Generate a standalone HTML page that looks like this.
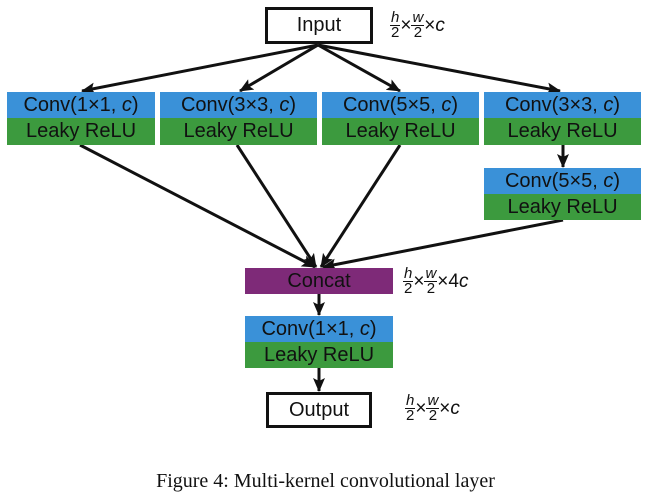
<!DOCTYPE html>
<html><head><style>
body{margin:0;width:651px;height:501px;background:#fff;position:relative;overflow:hidden;font-family:"Liberation Sans",sans-serif}
.b{position:absolute;background:#3a91d8;color:#111;font-size:20px;text-align:center;line-height:26px;height:26px}
.g{position:absolute;background:#3c9a3e;color:#111;font-size:20px;text-align:center;line-height:27px;height:27px}
.box{position:absolute;border:3px solid #111;box-sizing:border-box;text-align:center;font-size:20px;color:#111}
.f{position:absolute;font-size:19px;color:#111;display:flex;align-items:center}
.fr{display:inline-flex;flex-direction:column;align-items:center;font-size:15px;line-height:14px}
.fr i{border-bottom:1px solid #111;padding:0 1px}
</style></head><body>
<svg width="651" height="501" style="position:absolute;left:0;top:0">
<defs><marker id="a" markerWidth="14" markerHeight="12" refX="13" refY="6" orient="auto" markerUnits="userSpaceOnUse"><path d="M0,0 L14,6 L0,12 L3,6z" fill="#111"/></marker></defs>
<g stroke="#111" stroke-width="3" fill="none">
<line x1="318" y1="45" x2="82" y2="91" marker-end="url(#a)"/>
<line x1="318" y1="45" x2="240" y2="91" marker-end="url(#a)"/>
<line x1="318" y1="45" x2="400" y2="91" marker-end="url(#a)"/>
<line x1="318" y1="45" x2="560" y2="91" marker-end="url(#a)"/>
<line x1="563" y1="145" x2="563" y2="167" marker-end="url(#a)"/>
<line x1="80" y1="145" x2="315" y2="267" marker-end="url(#a)"/>
<line x1="237" y1="145" x2="316" y2="267" marker-end="url(#a)"/>
<line x1="400" y1="145" x2="321" y2="267" marker-end="url(#a)"/>
<line x1="563" y1="220" x2="323" y2="267" marker-end="url(#a)"/>
<line x1="319" y1="294" x2="319" y2="315" marker-end="url(#a)"/>
<line x1="319" y1="368" x2="319" y2="391" marker-end="url(#a)"/>
</g></svg>
<div class="box" style="left:265px;top:7px;width:108px;height:37px;line-height:31px">Input</div>
<div class="b" style="left:7px;top:92px;width:148px">Conv(1×1, <i>c</i>)</div><div class="g" style="left:7px;top:118px;width:148px">Leaky ReLU</div>
<div class="b" style="left:160px;top:92px;width:157px">Conv(3×3, <i>c</i>)</div><div class="g" style="left:160px;top:118px;width:157px">Leaky ReLU</div>
<div class="b" style="left:322px;top:92px;width:157px">Conv(5×5, <i>c</i>)</div><div class="g" style="left:322px;top:118px;width:157px">Leaky ReLU</div>
<div class="b" style="left:484px;top:92px;width:157px">Conv(3×3, <i>c</i>)</div><div class="g" style="left:484px;top:118px;width:157px">Leaky ReLU</div>
<div class="b" style="left:484px;top:168px;width:157px">Conv(5×5, <i>c</i>)</div><div class="g" style="left:484px;top:194px;width:157px;height:26px">Leaky ReLU</div>
<div style="position:absolute;left:245px;top:268px;width:148px;height:26px;background:#7e2a78;color:#111;font-size:20px;text-align:center;line-height:26px">Concat</div>
<div class="b" style="left:245px;top:316px;width:148px">Conv(1×1, <i>c</i>)</div><div class="g" style="left:245px;top:342px;width:148px;height:26px">Leaky ReLU</div>
<div class="box" style="left:266px;top:392px;width:106px;height:36px;line-height:30px">Output</div>
<div class="f" style="left:390px;top:11px"><span class="fr"><i>h</i>2</span>×<span class="fr"><i>w</i>2</span>×<i>c</i></div>
<div class="f" style="left:403px;top:267px"><span class="fr"><i>h</i>2</span>×<span class="fr"><i>w</i>2</span>×4<i>c</i></div>
<div class="f" style="left:405px;top:394px"><span class="fr"><i>h</i>2</span>×<span class="fr"><i>w</i>2</span>×<i>c</i></div>
<div style="position:absolute;left:0;width:651px;top:470px;text-align:center;font-family:'Liberation Serif',serif;font-size:20px;color:#111">Figure 4: Multi-kernel convolutional layer</div>
</body></html>
